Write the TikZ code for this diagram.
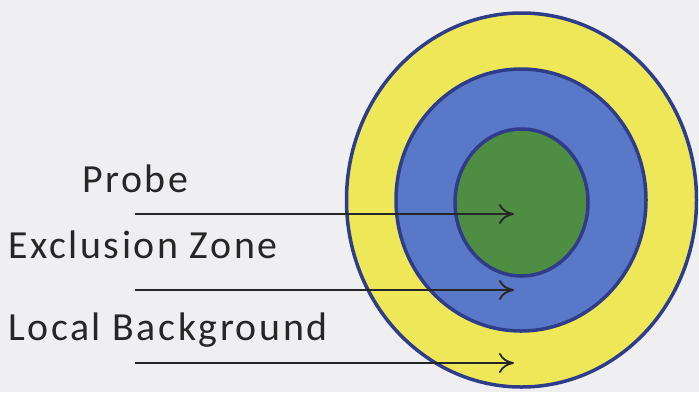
\documentclass[tikz,border=0pt]{standalone}
\usepackage{fontspec}
\setmainfont{Carlito}[LetterSpace=6.5]
\usetikzlibrary{arrows.meta}
\definecolor{paper}{HTML}{EFEFF1}
\definecolor{rim}{HTML}{2F3C8A}
\definecolor{bgyellow}{HTML}{EEE858}
\definecolor{exblue}{HTML}{5A78C8}
\definecolor{probegreen}{HTML}{4F8E42}
\definecolor{ink}{HTML}{262626}
\begin{document}
\begin{tikzpicture}[
    x=1bp, y=-1bp,
    zone/.style={draw=rim, line width=3.5bp},
    label/.style={anchor=base west, inner sep=0pt, text=ink, font=\fontsize{40}{48}\selectfont},
    arrow/.style={-{To[length=15bp, width=20bp]}, line width=1.8bp, draw=ink}
]

% Page background
\fill[paper] (0,0) rectangle (699,392);
\useasboundingbox (0,0) rectangle (699,392);

% Concentric zones
\draw[zone, fill=bgyellow] (521.5,200) ellipse [x radius=175, y radius=187];
\draw[zone, fill=exblue] (521,200) ellipse [x radius=125, y radius=131];
\draw[zone, fill=probegreen] (521.5,202.5) ellipse [x radius=66.5, y radius=73.5];

% Labels
\node[label] (probe) at (82,192) {Probe};
\node[label] (exclusion) at (8,258) {Exclusion Zone};
\node[label] (localbg) at (8,340) {Local Background};

% Arrow ends
\coordinate (probestart) at (135,214);
\coordinate (probetip) at (514,214);
\coordinate (exclusionstart) at (135,290);
\coordinate (exclusiontip) at (514,290);
\coordinate (localbgstart) at (135,363);
\coordinate (localbgtip) at (514,363);

% Arrows into the zones
\draw[arrow] (probestart) -- (probetip);
\draw[arrow] (exclusionstart) -- (exclusiontip);
\draw[arrow] (localbgstart) -- (localbgtip);

\end{tikzpicture}
\end{document}
